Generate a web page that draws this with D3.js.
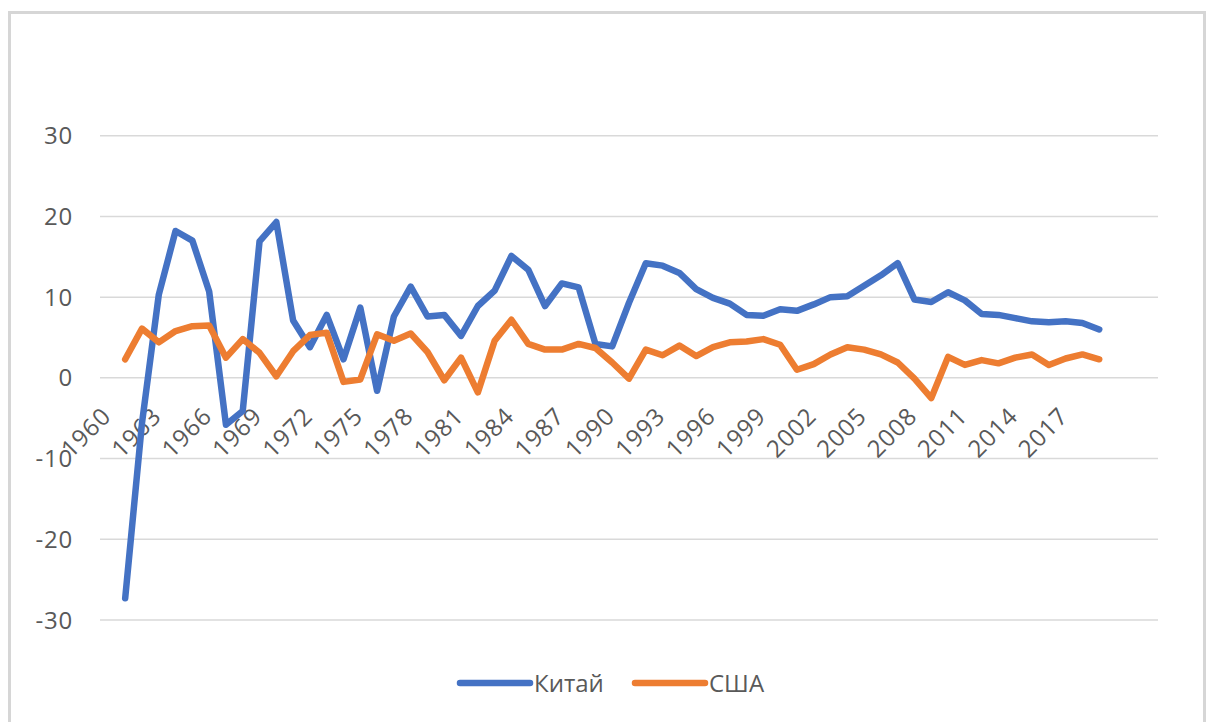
<!DOCTYPE html>
<html>
<head>
<meta charset="utf-8">
<script src="https://cdn.jsdelivr.net/npm/d3@7"></script>
<style>
  body { margin: 0; background: #fff; }
  text { font-family: "Open Sans", sans-serif; fill: #595959; }
</style>
</head>
<body>
<div id="chart"></div>
<script>
// ВВП, годовой прирост, %
const years = d3.range(1961, 2020);
const china = [-27.3, -5.6, 10.3, 18.2, 17.0, 10.7, -5.8, -4.1, 16.9, 19.3,
  7.1, 3.8, 7.8, 2.3, 8.7, -1.6, 7.6, 11.3, 7.6, 7.8,
  5.2, 8.9, 10.8, 15.1, 13.4, 8.9, 11.7, 11.2, 4.2, 3.9,
  9.3, 14.2, 13.9, 13.0, 11.0, 9.9, 9.2, 7.8, 7.7, 8.5,
  8.3, 9.1, 10.0, 10.1, 11.4, 12.7, 14.2, 9.7, 9.4, 10.6,
  9.6, 7.9, 7.8, 7.4, 7.0, 6.9, 7.0, 6.8, 6.0];
const usa = [2.3, 6.1, 4.4, 5.8, 6.4, 6.5, 2.5, 4.8, 3.1, 0.2,
  3.3, 5.3, 5.6, -0.5, -0.2, 5.4, 4.6, 5.5, 3.2, -0.3,
  2.5, -1.8, 4.6, 7.2, 4.2, 3.5, 3.5, 4.2, 3.7, 1.9,
  -0.1, 3.5, 2.8, 4.0, 2.7, 3.8, 4.4, 4.5, 4.8, 4.1,
  1.0, 1.7, 2.9, 3.8, 3.5, 2.9, 1.9, -0.1, -2.5, 2.6,
  1.6, 2.2, 1.8, 2.5, 2.9, 1.6, 2.4, 2.9, 2.3];
const seriesNames = ["Китай", "США"];
const colors = ["#4472C4", "#ED7D31"];
const yTicks = [-30, -20, -10, 0, 10, 20, 30];
const xTickYears = d3.range(1960, 2018, 3);

const W = 1207, H = 722;
const plot = {left: 100, right: 1158, top: 135.7, bottom: 620};

const svg = d3.select("#chart")
  .append("svg")
  .attr("width", W)
  .attr("height", H);

svg.append("rect")
  .attr("x", 9.5).attr("y", 12.5)
  .attr("width", 1195).attr("height", 730)
  .attr("fill", "none")
  .attr("stroke", "#d6d6d6")
  .attr("stroke-width", 3);

const x = d3.scaleLinear()
  .domain([1959.5, 2022.5])
  .range([plot.left, plot.right]);

const y = d3.scaleLinear()
  .domain([-30, 30])
  .range([plot.bottom, plot.top]);

// сетка
svg.append("g")
  .selectAll("line")
  .data(yTicks)
  .join("line")
  .attr("x1", plot.left).attr("x2", plot.right)
  .attr("y1", d => y(d)).attr("y2", d => y(d))
  .attr("stroke", "#d9d9d9")
  .attr("stroke-width", 1.5);

// подписи оси Y
svg.append("g")
  .selectAll("text")
  .data(yTicks)
  .join("text")
  .attr("x", 73)
  .attr("y", d => y(d))
  .attr("dy", "0.36em")
  .attr("text-anchor", "end")
  .style("font-size", "24px")
  .style("letter-spacing", "0.8px")
  .text(d => d);

// подписи оси X (повёрнуты)
svg.append("g")
  .selectAll("text")
  .data(xTickYears)
  .join("text")
  .attr("transform", d => `translate(${x(d) + 4},${y(0) + 40}) rotate(-45)`)
  .attr("text-anchor", "end")
  .style("font-size", "24px")
  .style("letter-spacing", "0.8px")
  .text(d => d);

const line = d3.line()
  .x((d, i) => x(years[i]))
  .y(d => y(d));

[china, usa].forEach((vals, k) => {
  svg.append("path")
    .datum(vals)
    .attr("d", line)
    .attr("fill", "none")
    .attr("stroke", colors[k])
    .attr("stroke-width", 6.5)
    .attr("stroke-linejoin", "round")
    .attr("stroke-linecap", "round");
});

// легенда
const legendX = [460, 635];
const legend = svg.append("g");
seriesNames.forEach((name, k) => {
  legend.append("line")
    .attr("x1", legendX[k]).attr("x2", legendX[k] + 70)
    .attr("y1", 683).attr("y2", 683)
    .attr("stroke", colors[k])
    .attr("stroke-width", 6.5)
    .attr("stroke-linecap", "round");
  legend.append("text")
    .attr("x", legendX[k] + 74)
    .attr("y", 683)
    .attr("dy", "0.36em")
    .style("font-size", "24px")
    .text(name);
});
</script>
</body>
</html>
